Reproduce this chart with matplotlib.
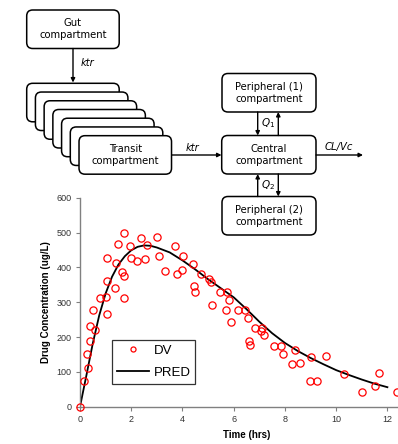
#!/usr/bin/env python3

import numpy as np
import matplotlib
matplotlib.use('Agg')
import matplotlib.pyplot as plt
from matplotlib.patches import FancyBboxPatch

# observed concentrations (DV)
dv_time = [0.0, 0.15, 0.33, 0.28, 0.39, 0.39, 0.60, 0.52, 0.80, 1.03, 1.05, 1.07, 1.05,
           1.38, 1.42, 1.50, 1.64, 1.72, 1.72, 1.73, 1.95, 2.00, 2.21, 2.37, 2.55, 2.63,
           3.01, 3.09, 3.31, 3.69, 3.77, 4.00, 4.04, 4.40, 4.45, 4.48, 4.72, 5.02, 5.11,
           5.17, 5.45, 5.72, 5.82, 5.70, 5.90, 6.15, 6.45, 6.54, 6.85, 7.12, 7.05, 7.20,
           6.58, 6.63, 7.56, 7.85, 7.92, 8.38, 8.26, 8.57, 9.03, 9.61, 8.97, 9.25, 10.32,
           11.01, 11.51, 11.69, 12.39]
dv_conc = [0, 75, 112, 152, 190, 231, 221, 278, 311, 316, 362, 266, 428,
           342, 412, 468, 388, 374, 311, 498, 462, 428, 419, 484, 424, 465,
           486, 433, 391, 462, 380, 392, 432, 410, 346, 328, 381, 368, 358,
           293, 328, 329, 306, 279, 242, 279, 279, 255, 227, 227, 218, 205,
           190, 177, 175, 175, 152, 164, 122, 125, 144, 145, 73, 73, 95,
           43, 59, 97, 43]

# population prediction (PRED)
pred_time = [0, 0.25, 0.5, 0.75, 1, 1.25, 1.5, 1.75, 2, 2.25, 2.5, 2.75, 3, 3.5, 4, 4.5,
             5, 5.5, 6, 6.5, 7, 7.5, 8, 8.5, 9, 9.5, 10, 10.5, 11, 11.5, 12]
pred_conc = [0, 90, 182, 262, 325, 373, 408, 432, 449, 459, 463, 462, 457, 443, 420, 394,
             366, 340, 314, 280, 244, 211, 183, 160, 140, 122, 105, 91, 78, 66, 56]

W, H = 398, 444


def draw_box(dax, x, y, w, h, text):
    dax.add_patch(FancyBboxPatch((x, y), w, h, boxstyle='round,pad=0,rounding_size=6',
                                 fc='white', ec='black', lw=1.1))
    if text:
        dax.text(x + w / 2, y + h / 2, text, ha='center', va='center',
                 fontsize=7.2, family='DejaVu Sans', linespacing=1.25)


def arrow(dax, p0, p1):
    dax.annotate('', xy=p1, xytext=p0,
                 arrowprops=dict(arrowstyle='-|>', lw=1.0, color='black',
                                 mutation_scale=6, shrinkA=0, shrinkB=0))


def main():
    plt.rcParams['mathtext.fontset'] = 'dejavusans'
    fig = plt.figure(figsize=(W / 100, H / 100), dpi=100)

    # concentration plot
    ax = fig.add_axes([80 / W, (H - 406.7) / H, 333 / W, 209 / H])
    ax.plot(pred_time, pred_conc, color='black', lw=1.3, label='PRED', zorder=2)
    ax.plot(dv_time, dv_conc, 'o', mfc='none', mec='red', ms=5.2, mew=0.9,
            label='DV', zorder=3, clip_on=False)
    ax.set_xlim(0, 13)
    ax.set_ylim(0, 600)
    ax.set_xticks(np.arange(0, 13, 2))
    ax.set_yticks(np.arange(0, 601, 100))
    for s in ['top', 'right']:
        ax.spines[s].set_visible(False)
    for s in ['left', 'bottom']:
        ax.spines[s].set_color('#808080')
        ax.spines[s].set_linewidth(1.0)
    ax.tick_params(length=3, width=0.8, color='#808080', labelsize=6.5,
                   labelcolor='#333333', pad=3)
    for lab in ax.get_xticklabels() + ax.get_yticklabels():
        lab.set_family('Liberation Sans')
    ax.set_xlabel('Time (hrs)', fontsize=7, fontweight='bold', family='Liberation Sans',
                  labelpad=4)
    ax.set_ylabel('Drug Concentration (ug/L)', fontsize=7, fontweight='bold',
                  family='Liberation Sans', labelpad=4)

    h, l = ax.get_legend_handles_labels()
    leg = ax.legend([h[1], h[0]], [l[1], l[0]], loc='upper left',
                    bbox_to_anchor=(112.3 / W, 1 - 340 / H), bbox_transform=fig.transFigure,
                    borderaxespad=0, fancybox=False, frameon=True, framealpha=1,
                    edgecolor='#333333', prop={'family': 'Liberation Sans', 'size': 9.5},
                    handlelength=2.4, handletextpad=0.4, labelspacing=0.75,
                    borderpad=0.35, markerscale=0.7)
    leg.get_frame().set_linewidth(0.9)

    # model diagram on top
    dax = fig.add_axes([0, 0, 1, 1], zorder=5)
    dax.set_xlim(0, W)
    dax.set_ylim(H, 0)
    dax.axis('off')
    dax.patch.set_alpha(0)

    bw, bh = 92.5, 38.5
    draw_box(dax, 26.7, 10, bw, bh, 'Gut\ncompartment')
    arrow(dax, (73, 48.5), (73, 82.5))
    dax.text(81, 63, 'ktr', style='italic', fontsize=7.2, va='center', ha='left')

    for i in range(7):
        txt = 'Transit\ncompartment' if i == 6 else ''
        draw_box(dax, 26.7 + 8.72 * i, 83.3 + 8.73 * i, bw, bh, txt)

    arrow(dax, (172, 155), (221.5, 155))
    dax.text(192.5, 148, 'ktr', style='italic', fontsize=7.2, va='center', ha='center')

    draw_box(dax, 221.7, 135.5, 94.3, bh, 'Central\ncompartment')
    draw_box(dax, 222, 73.5, 94, bh, 'Peripheral (1)\ncompartment')
    draw_box(dax, 222, 196.5, 94, bh, 'Peripheral (2)\ncompartment')

    arrow(dax, (257.7, 112), (257.7, 135.5))
    arrow(dax, (278.3, 135.5), (278.3, 112))
    dax.text(268, 123, r'$Q_1$', fontsize=7.5, va='center', ha='center')
    arrow(dax, (257.7, 196.5), (257.7, 174))
    arrow(dax, (278.3, 174), (278.3, 196.5))
    dax.text(268, 185, r'$Q_2$', fontsize=7.5, va='center', ha='center')

    arrow(dax, (316, 155), (363, 155))
    dax.text(338.5, 147, 'CL/Vc', style='italic', fontsize=7.2, va='center', ha='center')

    fig.savefig('out.png', dpi=100)


if __name__ == '__main__':
    main()
